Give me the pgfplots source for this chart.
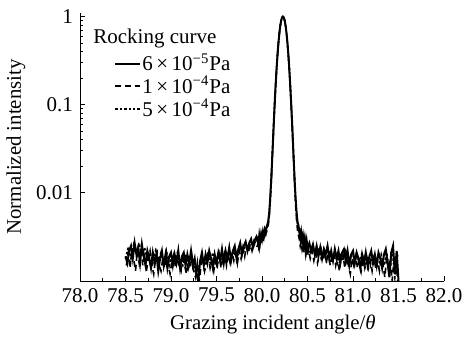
\documentclass[border=0pt]{standalone}
\usepackage{fontspec}
\setmainfont{Liberation Serif}
\usepackage{pgfplots}
\pgfplotsset{compat=1.18}
\begin{document}
\begin{tikzpicture}
\begin{axis}[name=ax, scale only axis, width=182pt, height=134pt,
  xmin=78, xmax=82, ymode=log, ymin=0.001, ymax=1.1,
  axis x line*=bottom, axis y line*=left,
  axis line style={line width=0.5pt},
  every tick/.style={black, line width=0.5pt},
  tick align=inside, major tick length=2.5pt, minor tick length=1.5pt,
  xtick={78,78.5,...,82}, minor x tick num=1,
  xticklabels={78.0,78.5,79.0,79.5,80.0,80.5,81.0,81.5,82.0},
  ytick={0.01,0.1,1}, yticklabels={0.01,0.1,1},
  /pgf/number format/assume math mode=true,
  tick label style={font=\fontsize{10.5}{12}\selectfont},
  label style={font=\fontsize{10.4}{12}\selectfont},
  ylabel style={at={(axis description cs:-0.176,0.5)}, anchor=center},
  xlabel style={at={(axis description cs:0.53,0)}, anchor=north, yshift=-13.5pt},
  xlabel={Grazing incident angle/\textit{θ}},
  ylabel={Normalized intensity},
  legend style={at={(rel axis cs:0,1)}, anchor=north west, xshift=14pt, yshift=-17pt,
    draw=none, fill=none, font=\fontsize{10.5}{11}\selectfont, row sep=-1pt,
    nodes={inner xsep=0.5pt, inner ysep=1pt}},
  legend cell align=left,
  legend image code/.code={\draw[#1] (0pt,0pt) -- (12.5pt,0pt);},
]
\addplot[black, line width=1pt] coordinates {
(78.50,0.0019)(78.52,0.0016)(78.54,0.0022)(78.56,0.0025)(78.58,0.0018)(78.60,0.0027)(78.62,0.0020)(78.64,0.0024)(78.66,0.0016)(78.68,0.0026)
(78.70,0.0019)(78.72,0.0015)(78.74,0.0022)(78.76,0.0018)(78.78,0.0014)(78.80,0.0021)(78.82,0.0016)(78.84,0.0020)(78.86,0.0013)(78.88,0.0018)
(78.90,0.0022)(78.92,0.0015)(78.94,0.0020)(78.96,0.0014)(78.98,0.0019)(79.00,0.0021)(79.02,0.0015)(79.04,0.0020)(79.06,0.0016)(79.08,0.0022)
(79.10,0.0014)(79.12,0.0019)(79.14,0.0021)(79.16,0.0015)(79.18,0.0020)(79.20,0.0016)(79.22,0.0022)(79.24,0.0015)(79.26,0.0018)(79.28,0.0012)
(79.30,0.0010)(79.32,0.0017)(79.34,0.0021)(79.36,0.0015)(79.38,0.0020)(79.40,0.0016)(79.42,0.0022)(79.44,0.0018)(79.46,0.0014)(79.48,0.0020)
(79.50,0.0016)(79.52,0.0021)(79.54,0.0017)(79.56,0.0023)(79.58,0.0016)(79.60,0.0022)(79.62,0.0018)(79.64,0.0024)(79.66,0.0017)(79.68,0.0022)
(79.70,0.0025)(79.72,0.0018)(79.74,0.0023)(79.76,0.0027)(79.78,0.0020)(79.80,0.0025)(79.82,0.0028)(79.84,0.0022)(79.86,0.0027)(79.88,0.0030)
(79.90,0.0024)(79.92,0.0029)(79.94,0.0032)
(79.95,0.0030)(79.96,0.0026)(79.97,0.0033)(79.98,0.0028)(79.99,0.0034)(80.00,0.0030)(80.01,0.0036)(80.02,0.0032)(80.03,0.0038)(80.04,0.0035)
(80.05,0.0041)(80.06,0.0044)(80.07,0.0049)(80.08,0.0061)(80.09,0.0086)(80.10,0.0133)(80.11,0.0223)(80.12,0.0381)(80.13,0.0648)(80.14,0.1067)
(80.15,0.169)(80.16,0.255)(80.17,0.366)(80.18,0.498)(80.19,0.641)(80.20,0.781)(80.21,0.899)(80.22,0.978)(80.23,1.000)(80.24,0.976)
(80.25,0.897)(80.26,0.779)(80.27,0.639)(80.28,0.496)(80.29,0.364)(80.30,0.254)(80.31,0.168)(80.32,0.106)(80.33,0.0646)(80.34,0.0379)
(80.35,0.0220)(80.36,0.0130)(80.37,0.0084)(80.38,0.0060)(80.39,0.0047)(80.40,0.0043)(80.41,0.0037)(80.42,0.0031)(80.43,0.0036)(80.44,0.0029)
(80.45,0.0033)(80.46,0.0027)(80.47,0.0031)(80.48,0.0025)(80.49,0.0029)(80.50,0.0024)
(80.52,0.0027)(80.54,0.0022)(80.56,0.0026)(80.58,0.0020)(80.60,0.0025)(80.62,0.0019)(80.64,0.0024)(80.66,0.0018)(80.68,0.0023)(80.70,0.0020)
(80.72,0.0025)(80.74,0.0018)(80.76,0.0022)(80.78,0.0017)(80.80,0.0023)(80.82,0.0018)(80.84,0.0022)(80.86,0.0016)(80.88,0.0021)(80.90,0.0023)
(80.92,0.0017)(80.94,0.0022)(80.96,0.0015)(80.98,0.0020)(81.00,0.0022)(81.02,0.0016)(81.04,0.0021)(81.06,0.0018)(81.08,0.0014)(81.10,0.0020)
(81.12,0.0016)(81.14,0.0021)(81.16,0.0015)(81.18,0.0019)(81.20,0.0022)(81.22,0.0016)(81.24,0.0020)(81.26,0.0015)(81.28,0.0021)(81.30,0.0018)
(81.32,0.0014)(81.34,0.0020)(81.36,0.0023)(81.38,0.0016)(81.40,0.0011)(81.42,0.0021)(81.44,0.0025)(81.46,0.0012)(81.48,0.0022)(81.50,0.0010)
};
\addlegendentry{6\,×\,10\textsuperscript{−5}Pa}
\addplot[black, line width=0.8pt, dash pattern=on 3pt off 2pt] coordinates {
(78.51,0.0015)(78.53,0.0021)(78.55,0.0014)(78.57,0.0023)(78.59,0.0018)(78.61,0.0013)(78.63,0.0022)(78.65,0.0016)(78.67,0.0024)(78.69,0.0015)
(78.71,0.0019)(78.73,0.0013)(78.75,0.0018)(78.77,0.0022)(78.79,0.0015)(78.81,0.0012)(78.83,0.0018)(78.85,0.0021)(78.87,0.0015)(78.89,0.0013)
(78.91,0.0018)(78.93,0.0014)(78.95,0.0021)(78.97,0.0015)(78.99,0.0012)(79.01,0.0017)(79.03,0.0020)(79.05,0.0014)(79.07,0.0018)(79.09,0.0015)
(79.11,0.0013)(79.13,0.0020)(79.15,0.0015)(79.17,0.0012)(79.19,0.0017)(79.21,0.0014)(79.23,0.0019)(79.25,0.0013)(79.27,0.0011)(79.29,0.0016)
(79.31,0.0010)(79.33,0.0015)(79.35,0.0019)(79.37,0.0013)(79.39,0.0016)(79.41,0.0020)(79.43,0.0014)(79.45,0.0017)(79.47,0.0013)(79.49,0.0018)
(79.51,0.0015)(79.53,0.0020)(79.55,0.0014)(79.57,0.0018)(79.59,0.0021)(79.61,0.0015)(79.63,0.0020)(79.65,0.0016)(79.67,0.0021)(79.69,0.0017)
(79.71,0.0023)(79.73,0.0016)(79.75,0.0022)(79.77,0.0018)(79.79,0.0024)(79.81,0.0019)(79.83,0.0025)(79.85,0.0021)(79.87,0.0026)(79.89,0.0022)
(79.91,0.0028)(79.93,0.0024)
(79.95,0.0025)(79.96,0.0029)(79.97,0.0024)(79.98,0.0030)(79.99,0.0026)(80.00,0.0031)(80.01,0.0028)(80.02,0.0032)(80.03,0.0030)(80.04,0.0034)
(80.05,0.0036)(80.06,0.0039)(80.07,0.0044)(80.08,0.0055)(80.09,0.0079)(80.10,0.0124)(80.11,0.0212)(80.12,0.0368)(80.13,0.0632)(80.14,0.1050)
(80.15,0.167)(80.16,0.252)(80.17,0.362)(80.18,0.494)(80.19,0.637)(80.20,0.777)(80.21,0.896)(80.22,0.975)(80.23,1.000)(80.24,0.973)
(80.25,0.894)(80.26,0.776)(80.27,0.636)(80.28,0.493)(80.29,0.361)(80.30,0.251)(80.31,0.165)(80.32,0.103)(80.33,0.0625)(80.34,0.0362)
(80.35,0.0206)(80.36,0.0118)(80.37,0.0073)(80.38,0.0049)(80.39,0.0038)(80.40,0.0033)(80.41,0.0030)(80.42,0.0025)(80.43,0.0028)(80.44,0.0023)
(80.45,0.0026)(80.46,0.0021)(80.47,0.0025)(80.48,0.0020)(80.49,0.0024)(80.50,0.0019)
(80.51,0.0023)(80.53,0.0018)(80.55,0.0022)(80.57,0.0017)(80.59,0.0021)(80.61,0.0016)(80.63,0.0020)(80.65,0.0023)(80.67,0.0017)(80.69,0.0021)
(80.71,0.0016)(80.73,0.0020)(80.75,0.0015)(80.77,0.0019)(80.79,0.0021)(80.81,0.0015)(80.83,0.0019)(80.85,0.0013)(80.87,0.0018)(80.89,0.0020)
(80.91,0.0014)(80.93,0.0018)(80.95,0.0015)(80.97,0.0012)(80.99,0.0018)(81.01,0.0015)(81.03,0.0019)(81.05,0.0014)(81.07,0.0017)(81.09,0.0013)
(81.11,0.0018)(81.13,0.0015)(81.15,0.0019)(81.17,0.0014)(81.19,0.0017)(81.21,0.0013)(81.23,0.0018)(81.25,0.0014)(81.27,0.0017)(81.29,0.0013)
(81.31,0.0018)(81.33,0.0015)(81.35,0.0011)(81.37,0.0019)(81.39,0.0014)(81.41,0.0018)(81.43,0.0010)(81.45,0.0017)(81.47,0.0019)(81.49,0.0010)
};
\addlegendentry{1\,×\,10\textsuperscript{−4}Pa}
\addplot[black, line width=0.8pt, dash pattern=on 1.2pt off 1pt] coordinates {
(78.50,0.0018)(78.53,0.0024)(78.56,0.0018)(78.59,0.0026)(78.62,0.0021)(78.65,0.0027)(78.68,0.0019)(78.71,0.0024)(78.74,0.0017)(78.77,0.0021)
(78.80,0.0016)(78.83,0.0022)(78.86,0.0017)(78.89,0.0021)(78.92,0.0016)(78.95,0.0022)(78.98,0.0015)(79.01,0.0020)(79.04,0.0016)(79.07,0.0021)
(79.10,0.0017)(79.13,0.0015)(79.16,0.0020)(79.19,0.0014)(79.22,0.0020)(79.25,0.0016)(79.28,0.0011)(79.31,0.0015)(79.34,0.0019)(79.37,0.0015)
(79.40,0.0020)(79.43,0.0016)(79.46,0.0021)(79.49,0.0015)(79.52,0.0020)(79.55,0.0016)(79.58,0.0021)(79.61,0.0017)(79.64,0.0022)(79.67,0.0018)
(79.70,0.0023)(79.73,0.0019)(79.76,0.0024)(79.79,0.0020)(79.82,0.0026)(79.85,0.0023)(79.88,0.0028)(79.91,0.0025)(79.94,0.0030)
(79.95,0.0028)(79.96,0.0031)(79.97,0.0029)(79.98,0.0032)(79.99,0.0030)(80.00,0.0034)(80.01,0.0032)(80.02,0.0035)(80.03,0.0034)(80.04,0.0037)
(80.05,0.0039)(80.06,0.0042)(80.07,0.0047)(80.08,0.0058)(80.09,0.0083)(80.10,0.0129)(80.11,0.0218)(80.12,0.0375)(80.13,0.0640)(80.14,0.1060)
(80.15,0.168)(80.16,0.254)(80.17,0.364)(80.18,0.496)(80.19,0.639)(80.20,0.779)(80.21,0.898)(80.22,0.977)(80.23,1.000)(80.24,0.975)
(80.25,0.896)(80.26,0.778)(80.27,0.638)(80.28,0.495)(80.29,0.363)(80.30,0.253)(80.31,0.167)(80.32,0.105)(80.33,0.0637)(80.34,0.0371)
(80.35,0.0213)(80.36,0.0124)(80.37,0.0079)(80.38,0.0055)(80.39,0.0044)(80.40,0.0039)(80.41,0.0033)(80.42,0.0036)(80.43,0.0030)(80.44,0.0032)
(80.45,0.0026)(80.46,0.0030)(80.47,0.0024)(80.48,0.0027)(80.49,0.0022)(80.50,0.0026)
(80.53,0.0021)(80.56,0.0025)(80.59,0.0019)(80.62,0.0024)(80.65,0.0018)(80.68,0.0023)(80.71,0.0017)(80.74,0.0022)(80.77,0.0018)(80.80,0.0021)
(80.83,0.0016)(80.86,0.0021)(80.89,0.0017)(80.92,0.0022)(80.95,0.0016)(80.98,0.0020)(81.01,0.0015)(81.04,0.0020)(81.07,0.0016)(81.10,0.0021)
(81.13,0.0014)(81.16,0.0019)(81.19,0.0015)(81.22,0.0020)(81.25,0.0016)(81.28,0.0014)(81.31,0.0020)(81.34,0.0015)(81.37,0.0021)(81.40,0.0013)
(81.43,0.0023)(81.46,0.0011)(81.49,0.0020)
};
\addlegendentry{5\,×\,10\textsuperscript{−4}Pa}
\node[anchor=north west, inner sep=0pt, font=\fontsize{10.5}{12}\selectfont] at ([shift={(6.5pt,-8pt)}]rel axis cs:0,1) {Rocking curve};
\end{axis}
\pgfresetboundingbox
\path ([shift={(-40pt,-28.5pt)}]ax.south west) rectangle ([shift={(11pt,6.5pt)}]ax.north east);
\end{tikzpicture}
\end{document}
